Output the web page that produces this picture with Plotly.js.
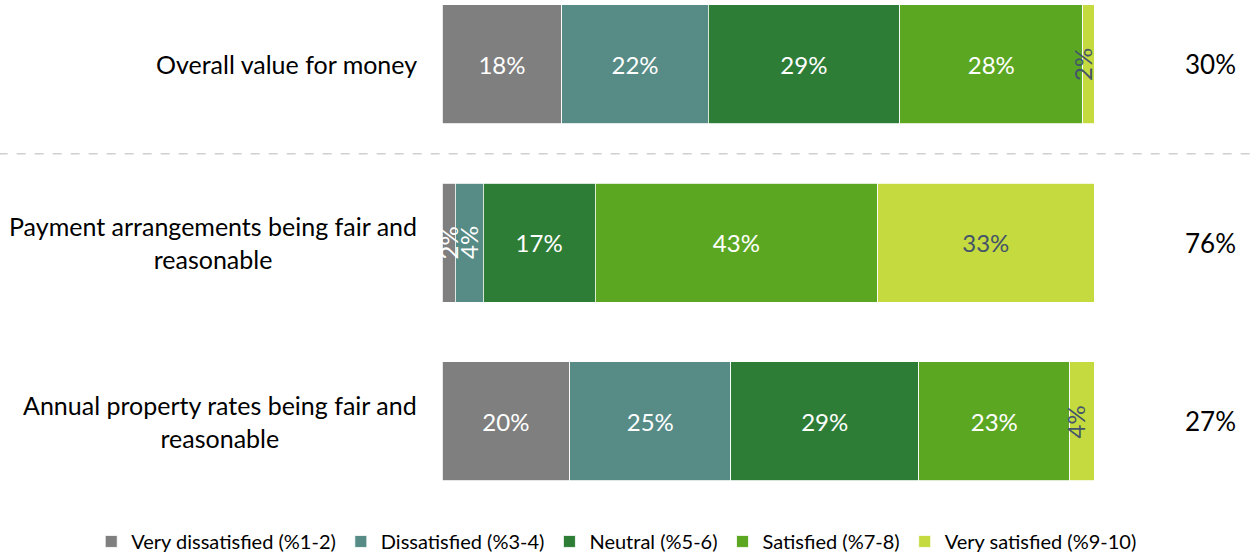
<!DOCTYPE html>
<html>
<head>
<meta charset="utf-8">
<script src="https://cdn.plot.ly/plotly-3.0.1.min.js"></script>
<style>
  html, body { margin: 0; padding: 0; background: #ffffff; }
  #graph { width: 1251px; height: 556px; }
</style>
</head>
<body>
<div id="graph"></div>
<script>
// Categorías (filas)
const categories = [
    "Overall value for money",
    "Payment arrangements being fair and<br>reasonable",
    "Annual property rates being fair and<br>reasonable"
];

// Series (porcentajes)
const seriesNames = [
    "Very dissatisfied (%1-2)",
    "Dissatisfied (%3-4)",
    "Neutral (%5-6)",
    "Satisfied (%7-8)",
    "Very satisfied (%9-10)"
];
const veryDissatisfied = [18.4, 2.0, 19.6];
const dissatisfied = [22.4, 4.3, 24.7];
const neutral = [29.4, 17.2, 28.8];
const satisfied = [28.1, 43.3, 23.2];
const verySatisfied = [1.7, 33.2, 3.7];

// Total satisfechos mostrado a la derecha
const netSatisfied = ["30%", "76%", "27%"];

const colors = ["#7f7f7f", "#568b86", "#2e7d37", "#5ba722", "#c5da3e"];
const textColors = ["#ffffff", "#ffffff", "#ffffff", "#ffffff", "#44546a"];

const FONT = "Lato, 'Open Sans', sans-serif";
const allSeries = [veryDissatisfied, dissatisfied, neutral, satisfied, verySatisfied];

// Barras apiladas
const data = allSeries.map((values, i) => ({
    type: "bar",
    orientation: "h",
    name: seriesNames[i],
    x: values,
    y: categories,
    marker: { color: colors[i], line: { color: "#ffffff", width: 0.8 } },
    text: values.map(v => v < 5 ? "" : Math.round(v) + "%"),
    textposition: "inside",
    insidetextanchor: "middle",
    textangle: 0,
    constraintext: "none",
    textfont: { family: FONT, size: 24, color: textColors[i] },
    hoverinfo: "name+x"
}));

const annotations = [];

// Etiquetas pequeñas giradas
allSeries.forEach((values, i) => {
    values.forEach((v, j) => {
        if (v >= 5) return;
        let start = 0;
        for (let k = 0; k < i; k++) start += allSeries[k][j];
        annotations.push({
            x: start + v / 2,
            y: categories[j],
            xref: "x", yref: "y",
            xshift: i === allSeries.length - 1 ? -6 : 0,
            text: Math.round(v) + "%",
            textangle: -90,
            showarrow: false,
            font: { family: FONT, size: 24, color: textColors[i] }
        });
    });
});

// Etiquetas de categoría a la izquierda
categories.forEach(c => {
    annotations.push({
        x: -0.035, xref: "paper", xanchor: "right",
        y: c, yref: "y", yanchor: "middle",
        text: c,
        align: "center",
        showarrow: false,
        font: { family: FONT, size: 25, color: "#000000" }
    });
});

// Totales a la derecha
netSatisfied.forEach((t, j) => {
    annotations.push({
        x: 1.178, xref: "paper", xanchor: "center",
        y: categories[j], yref: "y", yanchor: "middle",
        text: t,
        showarrow: false,
        font: { family: FONT, size: 26, color: "#000000" }
    });
});

const layout = {
    width: 1251,
    height: 556,
    margin: { l: 442, r: 157, t: 0, b: 66, pad: 0, autoexpand: false },
    paper_bgcolor: "#ffffff",
    plot_bgcolor: "#ffffff",
    barmode: "stack",
    bargap: 0.333,
    showlegend: true,
    legend: {
        orientation: "h",
        xref: "paper", yref: "paper",
        x: -0.538, xanchor: "left",
        y: -0.105, yanchor: "middle",
        traceorder: "normal",
        itemwidth: 30,
        font: { family: FONT, size: 20, color: "#000000" }
    },
    xaxis: {
        range: [0, 100],
        showgrid: false, zeroline: false, showticklabels: false, showline: false
    },
    yaxis: {
        type: "category",
        categoryorder: "array",
        categoryarray: categories,
        range: [2.384, -0.361],
        showgrid: false, zeroline: false, showticklabels: false, showline: false
    },
    shapes: [{
        type: "line",
        xref: "paper", yref: "y",
        x0: -0.68, x1: 1.24,
        y0: 0.5, y1: 0.5,
        line: { color: "#d0d0d0", width: 1.5, dash: "dash" }
    }],
    annotations: annotations
};

Plotly.newPlot("graph", data, layout, { displayModeBar: false, staticPlot: true });
</script>
</body>
</html>
